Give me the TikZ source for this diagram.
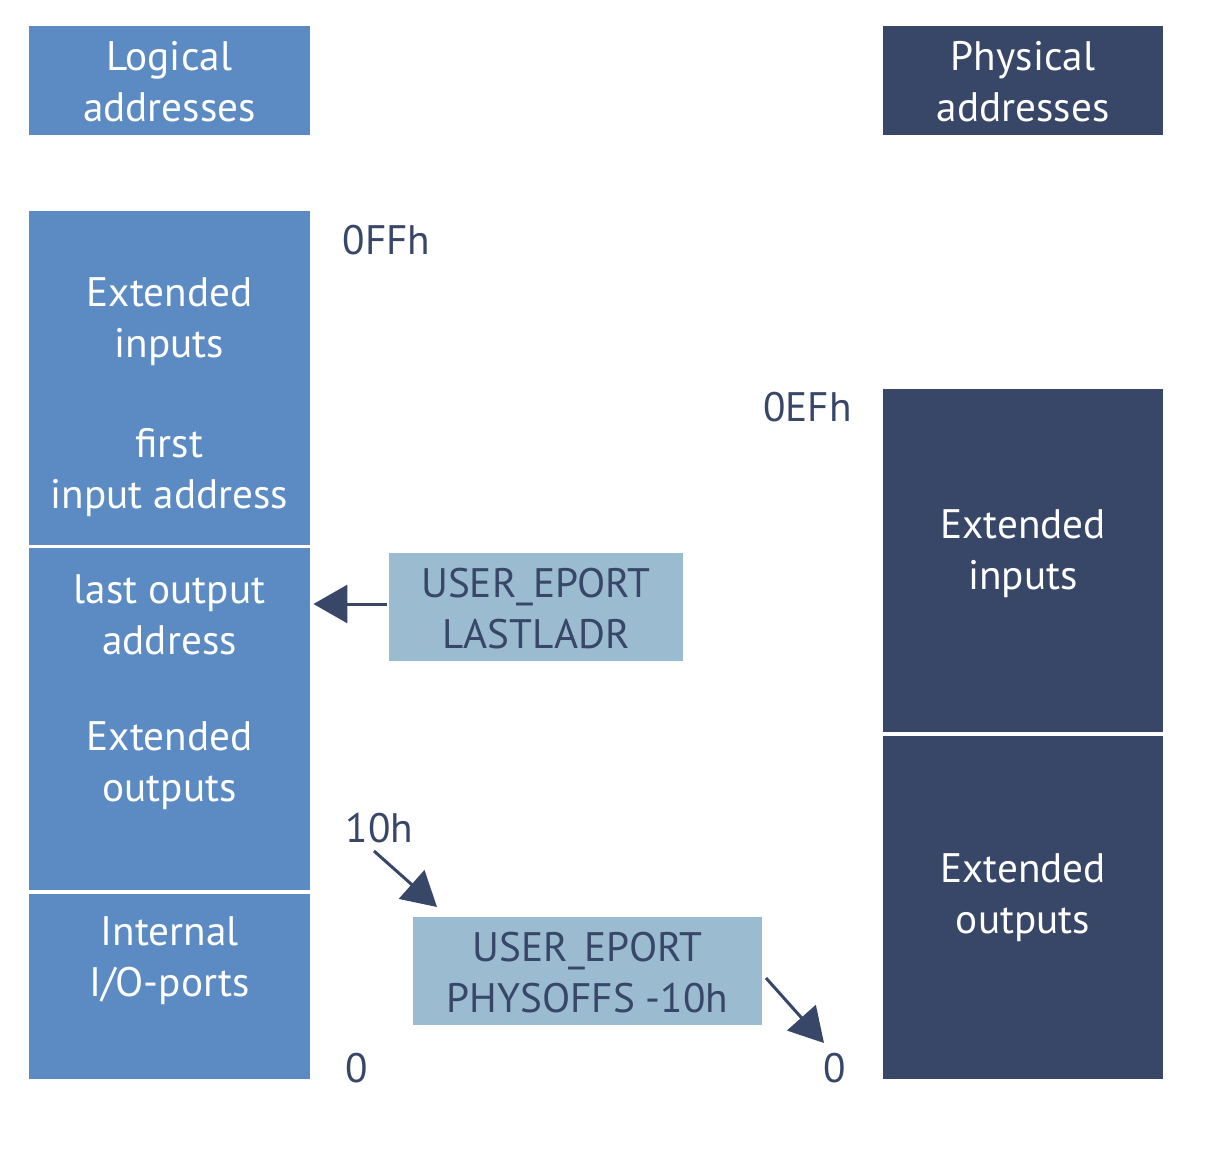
\documentclass[tikz,border=0pt]{standalone}
\usepackage{fontspec}
\setmainfont{PT Sans}
\usetikzlibrary{arrows.meta}
\definecolor{logblue}{HTML}{5C8BC4}
\definecolor{physnavy}{HTML}{384668}
\definecolor{regblue}{HTML}{9BBBD1}
\begin{document}
\begin{tikzpicture}[x=0.5pt, y=-0.5pt,
        every node/.style = {font=\fontsize{20.6}{25.5}\selectfont, align=center, inner sep=0pt},
        lblk/.style = {fill=logblue, minimum width=140.5pt},
        pblk/.style = {fill=physnavy, minimum width=140pt},
        reg/.style = {fill=regblue, text=physnavy},
        wtxt/.style = {text=white},
        addr/.style = {text=physnavy},
        arr/.style = {draw=physnavy, line width=1.5pt, -{Triangle[length=17pt, width=19pt]}}]
        \useasboundingbox (0,0) rectangle (1224,1170);
        % headers
        \node[lblk, minimum height=54.5pt] (loghead) at (169.5,80.5) {};
        \node[pblk, minimum height=54.5pt] (physhead) at (1023,80.5) {};
        \node[wtxt] (logtxt) at (169.5,82) {Logical\\addresses};
        \node[wtxt] (phystxt) at (1023,82) {Physical\\addresses};
        
        % logical columns
        \node[lblk, minimum height=167pt] (ltop) at (169.5,378) {};
        \node[lblk, minimum height=171pt] (lmid) at (169.5,719) {};
        \node[lblk, minimum height=92.5pt] (lbot) at (169.5,986.5) {};
        \node[wtxt] (lextin) at (169.5,321.5) {Extended\\inputs};
        \node[wtxt] (lfirst) at (169.5,472.5) {first\\input address};
        \node[wtxt] (llast) at (169.5,615) {last output\\address};
        \node[wtxt] (lextout) at (169.5,766) {Extended\\outputs};
        \node[wtxt] (lintern) at (169.5,960.5) {Internal\\I/O-ports};
        
        % physical columns
        \node[pblk, minimum height=171.5pt] (ptop) at (1023,560.5) {};
        \node[pblk, minimum height=171.5pt] (pbot) at (1023,907.5) {};
        \node[wtxt] (pextin) at (1023,553.5) {Extended\\inputs};
        \node[wtxt] (pextout) at (1023,897.5) {Extended\\outputs};
        
        % registers
        \node[reg, minimum width=147pt, minimum height=54pt] (lastladr) at (536,607) {};
        \node[addr] (lastladrtxt) at (536,608.5) {USER\_EPORT\\LASTLADR};
        \node[reg, minimum width=174.5pt, minimum height=54pt] (physoffs) at (587.5,971) {};
        \node[addr] (physoffstxt) at (587.5,973) {USER\_EPORT\\PHYSOFFS -10h};
        
        % address labels
        \node[addr] (lffh) at (386.5,240) {0FFh};
        \node[addr] (pefh) at (807.5,407) {0EFh};
        \node[addr] (l10h) at (379.5,828) {10h};
        \node[addr] (lzero) at (357,1068) {0};
        \node[addr] (pzero) at (835,1068) {0};
        
        \coordinate (a1) at (374,851);
        \coordinate (a2) at (437,907);
        \coordinate (b1) at (766,978);
        \coordinate (b2) at (824,1043);
        \draw[arr] ([xshift=-1pt]lastladr.west |- 0,604) -- ([xshift=1.5pt]lmid.east |- 0,604);
        \draw[arr] (a1) -- (a2);
        \draw[arr] (b1) -- (b2);
    \end{tikzpicture}
\end{document}
